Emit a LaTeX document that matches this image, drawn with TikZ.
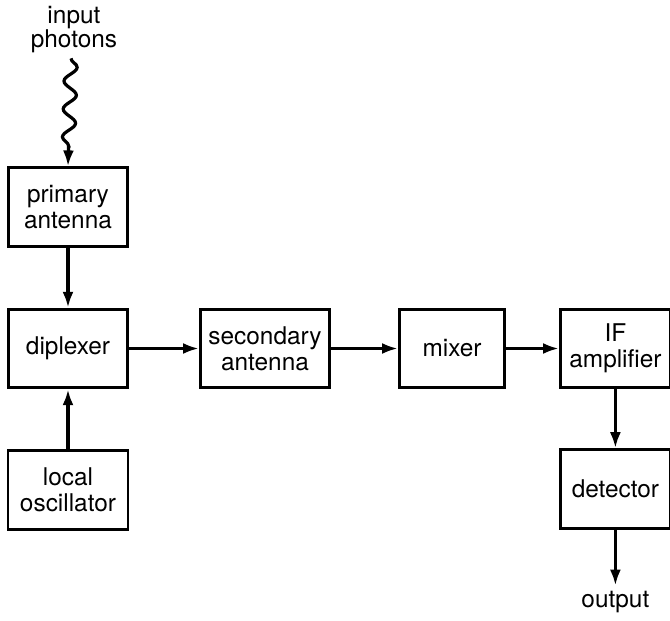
\documentclass[tikz,border=0pt]{standalone}
\usepackage{fontspec}
\setmainfont{TeX Gyre Heros}
\usetikzlibrary{arrows.meta,positioning,decorations.pathmorphing}

\begin{document}
\begin{tikzpicture}[
  node distance=30pt and 35pt,
  blk/.style={draw, line width=1.4pt, align=center, font=\fontsize{12.2}{12.8}\selectfont, minimum height=39.3pt, inner sep=0pt},
  lbl/.style={align=center, font=\fontsize{12.2}{12}\selectfont, inner sep=2.5pt},
  arr/.style={line width=1.6pt, -{Latex[length=8pt,width=5.5pt]}},
  wav/.style={arr, decorate, decoration={snake, amplitude=3.2pt, segment length=14pt, post length=8pt}}
]
\useasboundingbox (0,0) rectangle (335pt,-310.5pt);
\node[blk, minimum width=59.6pt] (dip) at (34pt,-174.25pt) {diplexer};
\node[blk, minimum width=59.6pt, above=of dip] (pri) {primary\\antenna};
\node[blk, minimum width=60pt, below=of dip] (lo) {local\\oscillator};
\node[blk, minimum width=64.6pt, right=of dip] (sec) {secondary\\antenna};
\node[blk, minimum width=52.6pt, right=33.5pt of sec] (mix) {mixer};
\node[blk, minimum width=55pt, right=26.5pt of mix] (ifa) {IF\\amplifier};
\node[blk, minimum width=55pt, below=29.5pt of ifa] (det) {detector};
\node[lbl, above=54pt of pri, xshift=3pt] (inp) {input\\photons};
\node[lbl, below=28pt of det] (out) {output};
\draw[wav] (inp.south -| pri.north) ++(1.5pt,0) -- (pri.north);
\foreach \a/\b in {pri/dip, lo/dip, dip/sec, sec/mix, mix/ifa, ifa/det, det/out}
  \draw[arr] (\a) -- (\b);
\end{tikzpicture}
\end{document}
